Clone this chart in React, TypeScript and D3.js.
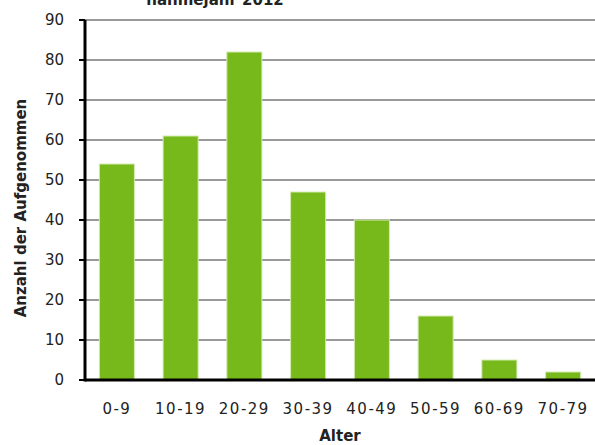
import { scaleBand, scaleLinear } from "d3";

const categories = ["0-9", "10-19", "20-29", "30-39", "40-49", "50-59", "60-69", "70-79"];
const counts = [54, 61, 82, 47, 40, 16, 5, 2];
const yTicks = [0, 10, 20, 30, 40, 50, 60, 70, 80, 90];

const width = 595;
const height = 445;
const margin = { top: 20, right: 0, bottom: 65, left: 85 };
const font = "'DejaVu Sans', sans-serif";

export default function App() {
  const x = scaleBand<string>()
    .domain(categories)
    .range([margin.left, width - margin.right])
    .paddingInner(0.45)
    .paddingOuter(0.225);

  const y = scaleLinear()
    .domain([0, 90])
    .range([height - margin.bottom, margin.top]);

  const y0 = y(0);

  return (
    <svg
      width={width}
      height={height}
      style={{ position: "absolute", left: 0, top: 0, background: "#fff" }}
      fontFamily={font}
    >
      {/* title is partly cut off at the top, as in the source */}
      <text x={215} y={5} textAnchor="middle" fontSize={15} fontWeight="bold" fill="#222">
        nahmejahr 2012
      </text>

      <g>
        {yTicks.slice(1).map((t) => (
          <line key={t} x1={margin.left} x2={width} y1={y(t)} y2={y(t)} stroke="#999" strokeWidth={2} />
        ))}
      </g>

      <g>
        {categories.map((c, i) => (
          <rect
            key={c}
            x={x(c)}
            y={y(counts[i])}
            width={x.bandwidth()}
            height={y0 - y(counts[i])}
            fill="#77b81a"
            stroke="#d4e9b4"
            strokeWidth={1}
          />
        ))}
      </g>

      <line x1={margin.left} x2={width} y1={y0} y2={y0} stroke="#000" strokeWidth={3} />
      <line x1={margin.left} x2={margin.left} y1={margin.top} y2={y0 + 1.5} stroke="#000" strokeWidth={3} />

      <g>
        {yTicks.map((t) => (
          <g key={t}>
            <line x1={margin.left - 6} x2={margin.left} y1={y(t)} y2={y(t)} stroke="#000" strokeWidth={2} />
            <text x={64} y={y(t)} dy="0.36em" textAnchor="end" fontSize={15} fill="#222">
              {t}
            </text>
          </g>
        ))}
      </g>

      <g>
        {categories.map((c) => (
          <text
            key={c}
            x={(x(c) ?? 0) + x.bandwidth() / 2}
            y={414}
            textAnchor="middle"
            fontSize={15}
            letterSpacing={1.5}
            fill="#222"
          >
            {c}
          </text>
        ))}
      </g>

      <text x={340} y={441} textAnchor="middle" fontSize={15} fontWeight="bold" fill="#222">
        Alter
      </text>
      <text
        transform={`translate(26, ${(margin.top + y0) / 2 + 8}) rotate(-90)`}
        textAnchor="middle"
        fontSize={15}
        fontWeight="bold"
        fill="#222"
      >
        Anzahl der Aufgenommen
      </text>
    </svg>
  );
}
